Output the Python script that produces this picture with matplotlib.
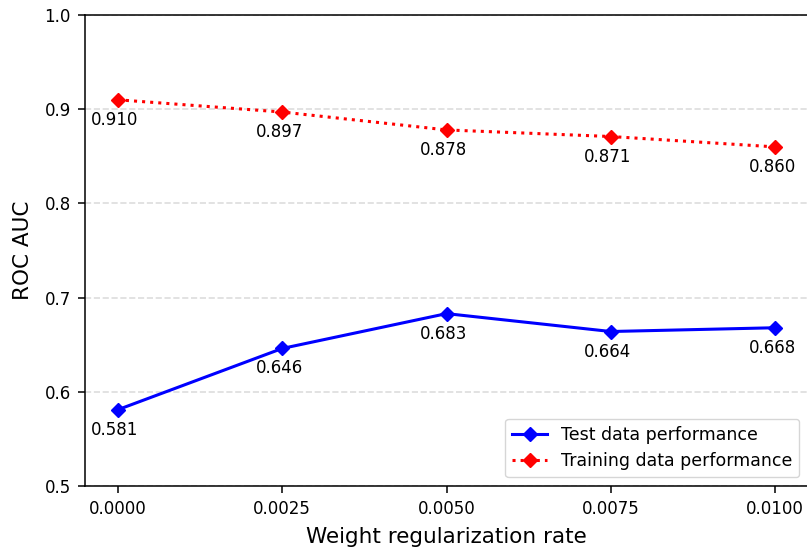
import matplotlib
matplotlib.use("Agg")
import matplotlib.pyplot as plt

# Regularization rates tried and the resulting ROC AUC scores
reg_rates = [0.0, 0.0025, 0.005, 0.0075, 0.01]
test_auc = [0.581, 0.646, 0.683, 0.664, 0.668]
train_auc = [0.910, 0.897, 0.878, 0.871, 0.860]

W, H = 807, 549
fig = plt.figure(figsize=(W / 100, H / 100), dpi=100)
ax = fig.add_axes([85 / W, 63 / H, 723 / W, 471 / H])

ax.plot(reg_rates, test_auc, color="blue", linestyle="-", linewidth=2.2,
        marker="D", markersize=6.8, label="Test data performance")
ax.plot(reg_rates, train_auc, color="red", linestyle=":", linewidth=2.2,
        marker="D", markersize=6.8, label="Training data performance")

# value labels under every point
for xs, ys in ((reg_rates, test_auc), (reg_rates, train_auc)):
    for x, y in zip(xs, ys):
        ax.annotate(f"{y:.3f}", (x, y), xytext=(-3, -20), textcoords="offset pixels",
                    ha="center", va="center", fontsize=12)

ax.set_ylim(0.5, 1.0)
ax.set_yticks([0.5, 0.6, 0.7, 0.8, 0.9, 1.0])
ax.set_xticks(reg_rates)
ax.tick_params(labelsize=12, length=5.3, width=1.1, pad=5)
for sp in ax.spines.values():
    sp.set_linewidth(1.1)
ax.yaxis.grid(True, linestyle="--", color="#dddddd", linewidth=1.2)
ax.set_axisbelow(True)

ax.set_xlabel("Weight regularization rate", fontsize=15.5, labelpad=6)
ax.set_ylabel("ROC AUC", fontsize=15.5, labelpad=8)
ax.legend(loc="lower right", fontsize=12.5)

fig.savefig("out.png", dpi=100)
